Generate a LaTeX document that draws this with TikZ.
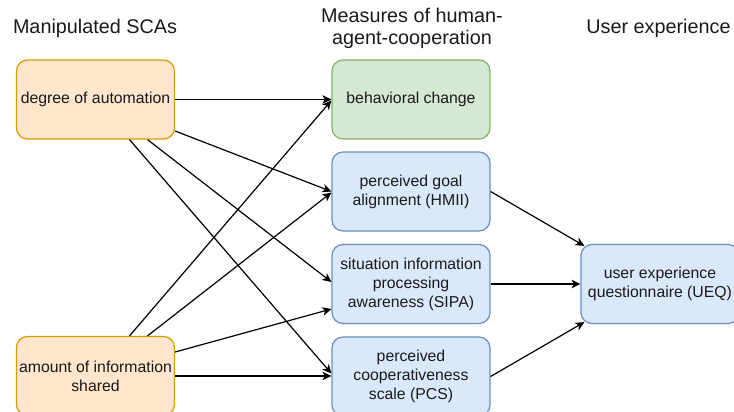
\documentclass[tikz,border=0pt]{standalone}
\usepackage{fontspec}
\setmainfont{Liberation Sans}
\usetikzlibrary{arrows.meta,calc}

\definecolor{scafill}{HTML}{FFE6CC}
\definecolor{scaline}{HTML}{D79B00}
\definecolor{behfill}{HTML}{D5E8D4}
\definecolor{behline}{HTML}{82B366}
\definecolor{mesfill}{HTML}{DAE8FC}
\definecolor{mesline}{HTML}{6C8EBF}
\definecolor{ink}{HTML}{1A1A1A}

\tikzset{
  box/.style={rounded corners=11pt, line width=1.2pt, minimum width=158pt,
    minimum height=79pt, align=center, inner sep=2pt, text=ink,
    font=\fontsize{15.8}{19}\selectfont},
  sca/.style={box, draw=scaline, fill=scafill},
  beh/.style={box, draw=behline, fill=behfill},
  mes/.style={box, draw=mesline, fill=mesfill},
  header/.style={align=center, text=ink, font=\fontsize{19.8}{22.5}\selectfont},
  link/.style={line width=1.2pt, draw=black,
    -{Stealth[length=9pt,width=8.5pt,inset=2.5pt]}},
}

\begin{document}
\begin{tikzpicture}[x=1pt,y=-1pt]
  \useasboundingbox (0,0) rectangle (734,412);
  \clip (0,0) rectangle (734,412);

  % column titles
  \node[header] (hsca) at (95,28) {Manipulated SCAs};
  \node[header] (hmes) at (412,28.5) {Measures of human-\\agent-cooperation};
  \node[header] (hux)  at (658.5,28) {User experience};

  % manipulated factors
  \node[sca] (DA)  at (95.5,99.5) {degree of automation};
  \node[sca] (AIS) at (95.5,376)  {amount of information\\shared};

  % measures
  \node[beh] (BC)   at (411,99.5) {behavioral change};
  \node[mes] (HMII) at (411,191.5) {perceived goal\\alignment (HMII)};
  \node[mes] (SIPA) at (411,284)   {situation information\\processing\\awareness (SIPA)};
  \node[mes] (PCS)  at (411,376.5) {perceived\\cooperativeness\\scale (PCS)};

  % user experience
  \node[mes] (UEQ) at (660,284) {user experience\\questionnaire (UEQ)};

  % degree of automation -> measures
  \draw[link] (DA.east) -- (BC.west);
  \draw[link] ([yshift=-31.5pt]DA.east) -- (HMII.west);
  \draw[link] ([xshift=52pt]DA.south) -- ([yshift=2pt]SIPA.west);
  \draw[link] ([xshift=34pt]DA.south) -- ([yshift=3pt]PCS.west);

  % amount of information -> measures
  \draw[link] ([xshift=34pt]AIS.north) -- ([yshift=-1pt]BC.west);
  \draw[link] ([xshift=52pt]AIS.north) -- ([yshift=-1pt]HMII.west);
  \draw[link] ([yshift=24pt]AIS.east) -- ([yshift=-25pt]SIPA.west);
  \draw[link] (AIS.east) -- (AIS.east -| PCS.west);

  % measures -> user experience
  \draw[link] (HMII.east) -- ([xshift=4pt,yshift=-2pt]UEQ.north west);
  \draw[link] (SIPA.east) -- (UEQ.west);
  \draw[link] (PCS.east) -- ([xshift=4pt,yshift=2pt]UEQ.south west);
\end{tikzpicture}
\end{document}
